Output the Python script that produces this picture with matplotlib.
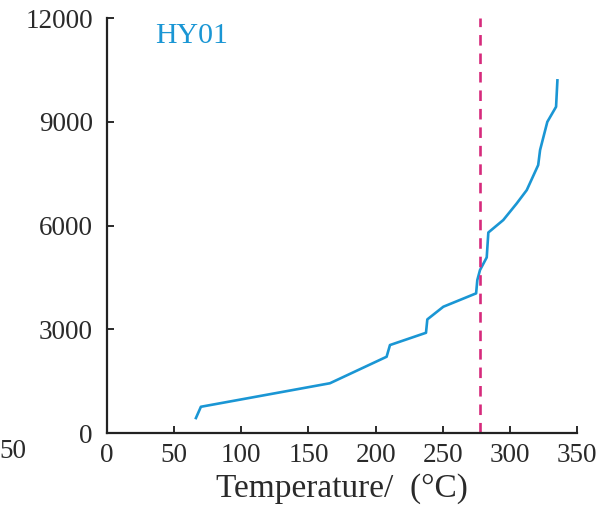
import matplotlib.pyplot as plt

# temperature (°C) vs depth (m)
temp = [66.3, 70, 166, 208.2, 210.7, 237.5, 238.5, 250.4, 274.8, 275.7, 277.7,
        282.7, 283.9, 295, 305, 312.5, 321, 322.4, 327.8, 334.3, 335.3]
depth = [434, 760, 1440, 2207, 2545, 2900, 3287, 3653, 4040, 4425, 4714,
         5080, 5800, 6160, 6640, 7027, 7750, 8184, 9000, 9436, 10200]
cut_temp = 278
xticks = [0, 50, 100, 150, 200, 250, 300, 350]
yticks = [0, 3000, 6000, 9000, 12000]
well = 'HY01'

plt.rcParams['font.family'] = ['Liberation Serif', 'DejaVu Serif']

fig = plt.figure(figsize=(6.14, 5.18), dpi=100)
ax = fig.add_axes([0.174, 0.164, 0.766, 0.801])

ax.plot(temp, depth, color='#1a96d4', lw=1.9)
ax.axvline(cut_temp, color='#d62a7c', lw=1.9, ls=(0, (4, 3)))

ax.set_xlim(0, 350)
ax.set_ylim(0, 12000)
ax.set_xticks(xticks)
ax.set_yticks(yticks)
ax.tick_params(direction='in', length=5, width=1.4, labelsize=19.5,
               colors='#2a2a2a')
ax.tick_params(axis='y', pad=10)
ax.tick_params(axis='x', pad=7)
for s in ['top', 'right']:
    ax.spines[s].set_visible(False)
for s in ['left', 'bottom']:
    ax.spines[s].set_linewidth(1.6)
    ax.spines[s].set_color('#222222')

ax.set_xlabel('Temperature/  (°C)', fontsize=24, color='#2a2a2a', labelpad=4)
ax.text(36, 11280, well, color='#1a96d4', fontsize=21.5, va='baseline')

# piece of the neighbouring panel at the left edge
fig.text(26 / 614, 1 - 452 / 518, '50', fontsize=19.5, ha='right', va='center',
         color='#2a2a2a')

fig.savefig('out.png', dpi=100)
